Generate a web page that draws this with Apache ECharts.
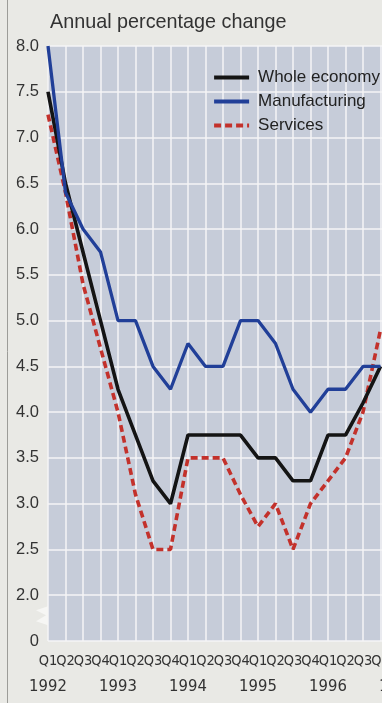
<!DOCTYPE html>
<html>
<head>
<meta charset="utf-8">
<script src="https://cdn.jsdelivr.net/npm/echarts@6/dist/echarts.min.js"></script>
<style>
  html, body { margin: 0; padding: 0; background: #e9e9e5; }
  #chart { width: 382px; height: 703px; }
</style>
</head>
<body>
<div id="chart"></div>
<script>
// Quarterly categories, Q1 1992 to Q1 1997
const quarterLabels = ['Q1','Q2','Q3','Q4','Q1','Q2','Q3','Q4','Q1','Q2','Q3','Q4',
                       'Q1','Q2','Q3','Q4','Q1','Q2','Q3','Q4','Q1'];
const yearLabels = ['1992','','','','1993','','','','1994','','','',
                    '1995','','','','1996','','','','1997'];
const categories = quarterLabels.map((q, i) => i + ':' + q);

// Annual percentage change, by quarter
const wholeEconomy  = [7.5, 6.5, 5.75, 5.0, 4.25, 3.75, 3.25, 3.0, 3.75, 3.75, 3.75, 3.75,
                       3.5, 3.5, 3.25, 3.25, 3.75, 3.75, 4.1, 4.5];
const manufacturing = [8.0, 6.4, 6.0, 5.75, 5.0, 5.0, 4.5, 4.25, 4.75, 4.5, 4.5, 5.0,
                       5.0, 4.75, 4.25, 4.0, 4.25, 4.25, 4.5, 4.5];
const services      = [7.25, 6.4, 5.4, 4.7, 4.0, 3.1, 2.5, 2.5, 3.5, 3.5, 3.5, 3.1,
                       2.75, 3.0, 2.5, 3.0, 3.25, 3.5, 4.0, 4.9];

// Value axis: 2.0 to 8.0, with the bottom step standing in for a broken axis down to zero
const yMin = 1.5, yMax = 8.0, yStep = 0.5;
const yZeroLabel = '0';

const seriesNames = ['Whole economy', 'Manufacturing', 'Services'];

const fontMain = '"Liberation Sans", Arial, Helvetica, sans-serif';
const fontNarrow = '"Liberation Sans Narrow", "DejaVu Sans Condensed", "Liberation Sans", sans-serif';

const chart = echarts.init(document.getElementById('chart'), null, { renderer: 'canvas' });

const option = {
  backgroundColor: '#e9e9e5',
  animation: false,
  title: {
    text: 'Annual percentage change',
    left: 45, top: 8,
    textStyle: { fontFamily: fontMain, fontSize: 19.8, fontWeight: 'normal', color: '#333' }
  },
  legend: {
    data: seriesNames,
    orient: 'vertical',
    left: 212, top: 69, padding: 0,
    itemWidth: 35, itemHeight: 14, itemGap: 7,
    itemStyle: { opacity: 0 },
    lineStyle: { width: 4.2 },
    textStyle: { fontFamily: fontMain, fontSize: 17, lineHeight: 14, color: '#222', padding: [0, 0, 0, 4] }
  },
  grid: {
    left: 48, top: 46, width: 350, height: 595,
    outerBoundsMode: 'none',
    show: true, backgroundColor: '#c6ccd9', borderWidth: 0
  },
  xAxis: [{
    type: 'category',
    data: categories,
    boundaryGap: false,
    axisLine: { show: false },
    axisTick: { show: false },
    axisLabel: {
      interval: 0, margin: 13,
      fontFamily: fontNarrow, fontSize: 14.5, color: '#333',
      formatter: (v, i) => quarterLabels[i]
    },
    splitLine: { show: true, interval: 0, lineStyle: { color: '#f4f4f6', width: 1.5 } }
  }, {
    type: 'category',
    data: categories,
    boundaryGap: false,
    position: 'bottom',
    axisLine: { show: false },
    axisTick: { show: false },
    axisLabel: {
      interval: 0, margin: 37,
      fontFamily: fontNarrow, fontSize: 16.5, color: '#333',
      formatter: (v, i) => yearLabels[i]
    },
    splitLine: { show: false }
  }],
  yAxis: {
    type: 'value',
    min: yMin, max: yMax, interval: yStep,
    axisLine: { show: false },
    axisTick: { show: false },
    axisLabel: {
      margin: 9,
      fontFamily: fontMain, fontSize: 16.5, color: '#333',
      formatter: v => (Math.abs(v - yMin) < 1e-9 ? yZeroLabel : v.toFixed(1))
    },
    splitLine: { show: true, lineStyle: { color: '#f4f4f6', width: 1.5 } }
  },
  series: [{
    name: 'Services', type: 'line', data: services,
    symbol: 'none', z: 2,
    lineStyle: { color: '#c3312b', width: 3.6, type: [7, 4] },
    itemStyle: { color: '#c3312b' }
  }, {
    name: 'Whole economy', type: 'line', data: wholeEconomy,
    symbol: 'none', z: 3,
    lineStyle: { color: '#141414', width: 3.6 },
    itemStyle: { color: '#141414' }
  }, {
    name: 'Manufacturing', type: 'line', data: manufacturing,
    symbol: 'none', z: 4,
    lineStyle: { color: '#213f98', width: 3.3 },
    itemStyle: { color: '#213f98' }
  }]
};

chart.setOption(option);

// Page frame rule and the zig-zag that marks the break in the value axis
const gridLeft = chart.convertToPixel({ gridIndex: 0 }, [0, yMin])[0];
const yBreak = chart.convertToPixel({ yAxisIndex: 0 }, (yMin + 2.0) / 2 + 0.02);
chart.setOption({
  graphic: [{
    type: 'line', silent: true,
    shape: { x1: 7.5, y1: 0, x2: 7.5, y2: 703 },
    style: { stroke: '#9c9c98', lineWidth: 1 }
  }, {
    type: 'polygon', silent: true,
    shape: { points: [
      [gridLeft, yBreak - 10], [gridLeft - 12, yBreak - 6], [gridLeft - 2, yBreak - 1],
      [gridLeft - 12, yBreak + 5], [gridLeft, yBreak + 9]
    ] },
    style: { fill: '#f6f6f4' }
  }]
});
</script>
</body>
</html>
